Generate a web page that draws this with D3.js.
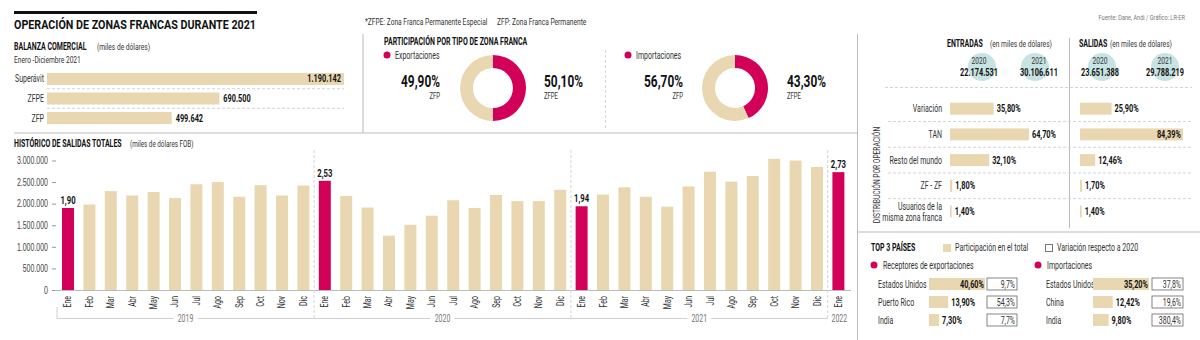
<!DOCTYPE html>
<html lang="es">
<head>
<meta charset="UTF-8">
<title>Operación de zonas francas durante 2021</title>
<script src="https://d3js.org/d3.v7.min.js"></script>
<style>
  body { margin: 0; background: #fff; }
  svg { display: block; font-family: Roboto, "Noto Sans", sans-serif; }
  .t { fill: #333; }
  .b { font-weight: bold; fill: #111; }
  .g { fill: #777; }
  .line { stroke: #bbb; stroke-width: 1; fill: none; }
  .light { stroke: #d0d0d0; stroke-width: 1; fill: none; }
  .dash { stroke: #d4d4d4; stroke-width: 1; stroke-dasharray: 3,2; fill: none; }
</style>
</head>
<body>
<svg id="chart" width="1200" height="340"></svg>
<script>
// ---- data ----
const balanzaCats = ["Superávit", "ZFPE", "ZFP"];
const balanzaValues = [1190142, 690500, 499642];

const zonas = ["ZFPE", "ZFP"];
const exportShare = [50.1, 49.9];
const importShare = [43.3, 56.7];

const flowYears = ["2020", "2021"];
const entradasValues = [22174531, 30106611];
const salidasValues = [23651388, 29788219];

const distCats = ["Variación", "TAN", "Resto del mundo", "ZF - ZF", "Usuarios de la|misma zona franca"];
const distEntradas = [35.8, 64.7, 32.1, 1.8, 1.4];
const distSalidas = [25.9, 84.39, 12.46, 1.7, 1.4];

const expCountries = ["Estados Unidos", "Puerto Rico", "India"];
const expPart = [40.6, 13.9, 7.3];
const expVar = [9.7, 54.3, 7.7];
const impCountries = ["Estados Unidos", "China", "India"];
const impPart = [35.2, 12.42, 9.8];
const impVar = [37.8, 19.6, 380.4];

const months = ["Ene", "Feb", "Mar", "Abr", "May", "Jun", "Jul", "Ago", "Sep", "Oct", "Nov", "Dic"];
const histYears = ["2019", "2020", "2021", "2022"];
const salidas2019 = [1900000, 1980000, 2290000, 2190000, 2270000, 2130000, 2450000, 2500000, 2160000, 2430000, 2190000, 2420000];
const salidas2020 = [2530000, 2180000, 1910000, 1260000, 1510000, 1720000, 2080000, 1900000, 2200000, 2060000, 2060000, 2320000];
const salidas2021 = [1940000, 2210000, 2380000, 2160000, 1930000, 2400000, 2740000, 2510000, 2640000, 3040000, 3000000, 2850000];
const salidas2022 = [2730000];
const yTicks = [0, 500000, 1000000, 1500000, 2000000, 2500000, 3000000];

// ---- setup ----
const BEIGE = "#e9d7b1", RED = "#d3005a", TEAL = "#c7e3e3";
const SX = 0.7; // condensed look
const loc = d3.formatLocale({ decimal: ",", thousands: ".", grouping: [3], currency: ["$", ""] });
const fmtInt = loc.format(",d");
const fmt2 = loc.format(".2f");
const fmt1 = loc.format(".1f");

const svg = d3.select("#chart");

function txt(x, y, s, cls, anchor, size, rot) {
  return svg.append("text").attr("class", cls || "t")
    .attr("transform", `translate(${x},${y})${rot ? " rotate(" + rot + ")" : ""} scale(${SX},1)`)
    .attr("text-anchor", anchor || "start").style("font-size", (size || 10) + "px").text(s);
}
function hline(x1, x2, y, cls) {
  svg.append("line").attr("class", cls || "line").attr("x1", x1).attr("x2", x2).attr("y1", y).attr("y2", y);
}
function vline(x, y1, y2, cls) {
  svg.append("line").attr("class", cls || "line").attr("x1", x).attr("x2", x).attr("y1", y1).attr("y2", y2);
}

// ---- title ----
svg.append("rect").attr("x", 14).attr("y", 11).attr("width", 243).attr("height", 3).attr("fill", "#111");
svg.append("text").attr("class", "t b").attr("x", 14).attr("y", 29).style("font-size", "13px")
  .attr("textLength", 242).attr("lengthAdjust", "spacingAndGlyphs")
  .text("OPERACIÓN DE ZONAS FRANCAS DURANTE 2021");
txt(365, 25, "*ZFPE: Zona Franca Permanente Especial", "t", "start", 9.5);
txt(497, 25, "ZFP: Zona Franca Permanente", "t", "start", 9.5);
txt(1185, 20, "Fuente: Dane, Andi / Gráfico: LR-ER", "t g", "end", 8);

// frame lines
vline(363, 34, 133);
hline(14, 857, 133);
vline(857.5, 34, 340);
hline(858, 1200, 232);

// ---- balanza comercial ----
txt(14, 50, "BALANZA COMERCIAL", "t b", "start", 10);
txt(97, 50, "(miles de dólares)", "t", "start", 9.5);
txt(14, 63, "Enero -Diciembre 2021", "t", "start", 9.5);

const bx = d3.scaleLinear().domain([0, d3.max(balanzaValues)]).range([47, 344]);
const by = d3.scaleBand().domain(balanzaCats).range([69, 128]).paddingInner(0.385).paddingOuter(0.2);
balanzaCats.forEach((c, i) => {
  const y = by(c), h = by.bandwidth();
  if (i > 0) hline(47, 344, y - (by.step() - h) / 2, "dash");
  svg.append("rect").attr("x", bx(0)).attr("y", y).attr("width", bx(balanzaValues[i]) - bx(0)).attr("height", h).attr("fill", BEIGE);
  txt(44, y + h / 2 + 3.5, c, "t", "end", 10);
  const inside = i === 0;
  txt(inside ? bx(balanzaValues[i]) - 3 : bx(balanzaValues[i]) + 4, y + h / 2 + 3.5, fmtInt(balanzaValues[i]), "t b", inside ? "end" : "start", 10.5);
});

// ---- participacion donuts ----
txt(384, 45, "PARTICIPACIÓN POR TIPO DE ZONA FRANCA", "t b", "start", 10);
vline(605.5, 50, 128, "dash");
const pie = d3.pie().sort(null);
const arc = d3.arc().innerRadius(20).outerRadius(33);
const zoneColor = d3.scaleOrdinal().domain(zonas).range([RED, BEIGE]);
[
  { name: "Exportaciones", vals: exportShare, cx: 493, lx: 387, left: 440, right: 544 },
  { name: "Importaciones", vals: importShare, cx: 735, lx: 628, left: 683, right: 787 }
].forEach(d => {
  svg.append("circle").attr("cx", d.lx).attr("cy", 55).attr("r", 3.5).attr("fill", RED);
  txt(d.lx + 8, 58.5, d.name, "t", "start", 10);
  const g = svg.append("g").attr("transform", `translate(${d.cx},88)`);
  g.selectAll("path").data(pie(d.vals)).join("path")
    .attr("d", arc).attr("fill", (p, i) => zoneColor(zonas[i]));
  // ZFP on the left, ZFPE on the right
  txt(d.left, 87, fmt2(d.vals[1]) + "%", "t b", "end", 17);
  txt(d.left, 98.5, zonas[1], "t", "end", 8.5);
  txt(d.right, 87, fmt2(d.vals[0]) + "%", "t b", "start", 17);
  txt(d.right, 98.5, zonas[0], "t", "start", 8.5);
});

// ---- historico de salidas ----
txt(14, 147, "HISTÓRICO DE SALIDAS TOTALES", "t b", "start", 10);
txt(130, 147, "(miles de dólares FOB)", "t", "start", 9);

const series = [salidas2019, salidas2020, salidas2021, salidas2022];
const hist = [];
series.forEach((arr, yi) => arr.forEach((v, mi) => hist.push({ key: histYears[yi] + "-" + mi, year: histYears[yi], month: months[mi], value: v })));

const hx = d3.scaleBand().domain(hist.map(d => d.key)).range([57, 849.4]).paddingInner(0.44).paddingOuter(0.234);
const hy = d3.scaleLinear().domain([0, 3000000]).range([290, 160.5]);

const yAxis = d3.axisLeft(hy).tickValues(yTicks).tickSize(4).tickFormat(fmtInt);
const ya = svg.append("g").attr("transform", "translate(56,0)").call(yAxis);
ya.select(".domain").remove();
ya.selectAll(".tick line").attr("stroke", "#999");
ya.selectAll(".tick text").attr("x", 0).attr("dy", "0.32em")
  .attr("transform", `translate(-8,0) scale(${SX},1)`)
  .attr("fill", "#444").style("font-size", "10px").style("font-family", "inherit");

svg.selectAll(".hbar").data(hist).join("rect").attr("class", "hbar")
  .attr("x", d => hx(d.key)).attr("width", hx.bandwidth())
  .attr("y", d => hy(d.value)).attr("height", d => hy(0) - hy(d.value))
  .attr("fill", d => d.month === "Ene" ? RED : BEIGE);

hline(55, 851, 290.5, "line");

hist.filter(d => d.month === "Ene").forEach(d => {
  txt(hx(d.key) + hx.bandwidth() / 2, hy(d.value) - 4, fmt2(d.value / 1e6), "t b", "middle", 11);
});

// year separators and brackets
const sepX = [];
histYears.slice(1).forEach(y => {
  const first = hx(y + "-0");
  sepX.push(first - (hx.step() - hx.bandwidth()) / 2);
});
sepX.forEach(x => vline(x, 150, 318, "dash"));

hist.forEach(d => {
  txt(hx(d.key) + hx.bandwidth() / 2 + 3.5, 296, d.month, "t", "end", 10, -90);
});

const edges = [57].concat(sepX, [851]);
histYears.forEach((y, i) => {
  const x0 = edges[i], x1 = edges[i + 1], mid = (x0 + x1) / 2;
  if (i < 3) {
    hline(x0, mid - 12, 318.5, "light");
    hline(mid + 12, x1, 318.5, "light");
  }
  txt(mid, 322, y, "t g", "middle", 10);
});
vline(57, 307, 318.5, "light");

// ---- entradas / salidas ----
txt(947, 47, "ENTRADAS", "t b", "start", 10);
txt(990, 47, "(en miles de dólares)", "t", "start", 9.5);
txt(1079, 47, "SALIDAS", "t b", "start", 10);
txt(1110, 47, "(en miles de dólares)", "t", "start", 9.5);
vline(1069.5, 38, 228);
hline(885, 1192, 87.5, "dash");

const flows = [
  { vals: entradasValues, cx: [982, 1035], tx: [979, 1039] },
  { vals: salidasValues, cx: [1102, 1165], tx: [1100, 1165] }
];
flows.forEach(f => flowYears.forEach((yr, i) => {
  svg.append("circle").attr("cx", f.cx[i]).attr("cy", 67).attr("r", 14).attr("fill", TEAL);
  txt(f.tx[i], 64, yr, "t", "middle", 9.5);
  txt(f.tx[i], 75.5, fmtInt(f.vals[i]), "t b", "middle", 10.5);
}));

// distribucion
const dy = d3.scalePoint().domain(distCats).range([108.7, 211.5]);
const dw = d3.scaleLinear().domain([0, 100]).range([0, 122]);
txt(880, 175, "DISTRIBUCIÓN POR OPERACIÓN", "t", "middle", 9.5, -90);
distCats.forEach((c, i) => {
  const cy = dy(c);
  if (i > 0) hline(888, 1192, (dy(distCats[i - 1]) + cy) / 2, "dash");
  const parts = c.split("|");
  parts.forEach((p, j) => txt(942, cy + 3.5 + (j - (parts.length - 1) / 2) * 11, p, "t", "end", 10));
  [[950, distEntradas[i]], [1080, distSalidas[i]]].forEach(([x0, v]) => {
    const w = dw(v);
    svg.append("rect").attr("x", x0).attr("y", cy - 6).attr("width", w).attr("height", 12).attr("fill", BEIGE);
    const inside = w > 90;
    txt(inside ? x0 + w - 2 : x0 + w + 3, cy + 3.5, fmt2(v) + "%", "t b", inside ? "end" : "start", 10.5);
  });
});

// ---- top 3 paises ----
txt(871, 251, "TOP 3 PAÍSES", "t b", "start", 10);
svg.append("rect").attr("x", 943).attr("y", 244).attr("width", 8).attr("height", 8).attr("fill", BEIGE);
txt(955, 251, "Participación en el total", "t", "start", 10);
svg.append("rect").attr("x", 1045.5).attr("y", 244.5).attr("width", 7).attr("height", 7).attr("fill", "none").attr("stroke", "#777");
txt(1057, 251, "Variación respecto a 2020", "t", "start", 10);

const ty = d3.scalePoint().domain([0, 1, 2]).range([284, 320]);
[
  { title: "Receptores de exportaciones", dot: 874, lab: 878, bar: 929, box: 987, boxW: 30, c: expCountries, p: expPart, v: expVar },
  { title: "Importaciones", dot: 1038, lab: 1046, bar: 1093, box: 1152, boxW: 31, c: impCountries, p: impPart, v: impVar }
].forEach(s => {
  svg.append("circle").attr("cx", s.dot).attr("cy", 265).attr("r", 3.5).attr("fill", RED);
  txt(s.dot + 9, 268.5, s.title, "t", "start", 10);
  const w = d3.scaleLinear().domain([0, d3.max(s.p)]).range([0, 56]);
  s.c.forEach((name, i) => {
    const cy = ty(i);
    txt(s.lab, cy + 3.5, name, "t", "start", 10);
    svg.append("rect").attr("x", s.bar).attr("y", cy - 6).attr("width", w(s.p[i])).attr("height", 12).attr("fill", BEIGE);
    const inside = w(s.p[i]) > 40;
    txt(inside ? s.bar + w(s.p[i]) - 1 : s.bar + w(s.p[i]) + 3, cy + 3.5, fmt2(s.p[i]) + "%", "t b", inside ? "end" : "start", 10.5);
    svg.append("rect").attr("x", s.box).attr("y", cy - 6).attr("width", s.boxW).attr("height", 12)
      .attr("fill", "none").attr("stroke", "#666").attr("stroke-width", 0.8);
    txt(s.box + s.boxW - 2, cy + 3.5, fmt1(s.v[i]) + "%", "t", "end", 10);
  });
});
</script>
</body>
</html>
